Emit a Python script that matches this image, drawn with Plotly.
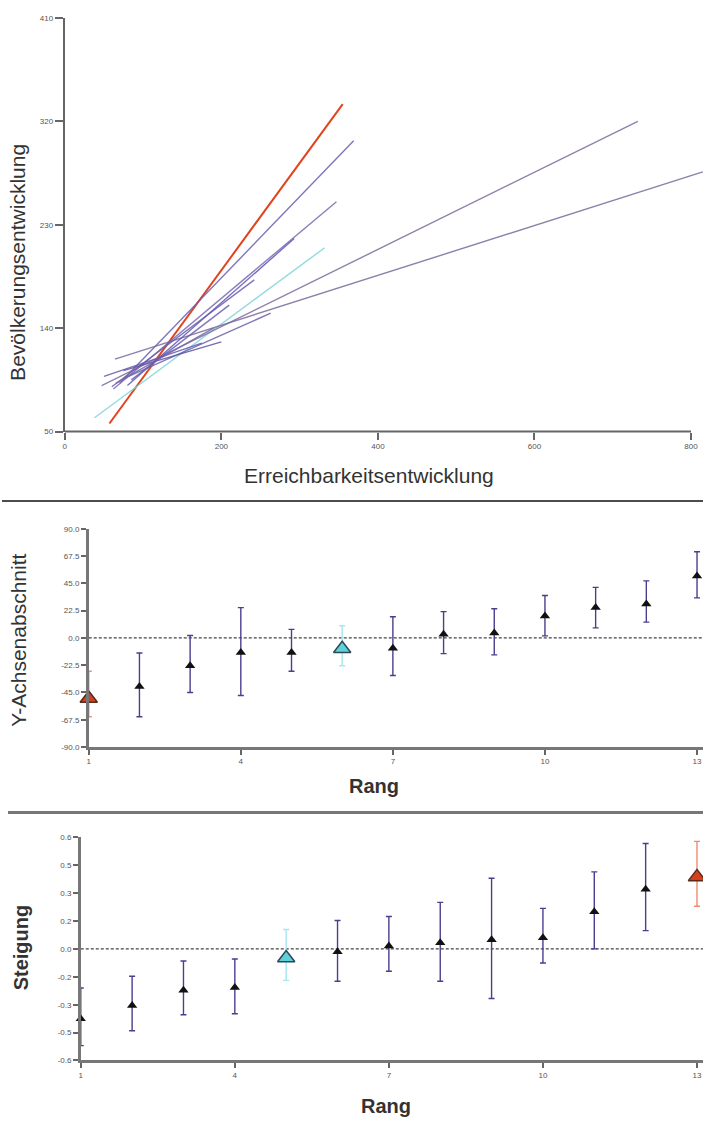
import plotly.graph_objects as go

W, H = 703, 1127
FONT = "Liberation Sans"

# ---------------- Panel 1: regression lines ----------------
line_names = ["L1", "L2", "L3", "L4", "L5", "L6", "L7", "L8", "L9", "L10", "L11", "L12", "L13"]
line_x0 = [57, 38, 70, 62, 47, 64, 75, 80, 60, 50, 65, 75, 85]
line_y0 = [57, 62, 92, 87, 90, 113, 96, 90, 89, 98, 92, 103, 95]
line_x1 = [355, 332, 369, 347, 732, 815, 263, 293, 242, 175, 190, 200, 210]
line_y1 = [335, 210, 303, 250, 320, 276, 153, 218, 182, 127, 140, 128, 160]
line_colors = ["#E0441E", "#7FD4DA", "#6A5FB0", "#7B6AAE", "#7D6C9E", "#7A6A9C",
               "#6F62A8", "#5C56B8", "#6B5DB0", "#6458B4", "#7565A8", "#5E52A6", "#6C60B2"]

p1_yticks = [50, 140, 230, 320, 410]
p1_xticks = [0, 200, 400, 600, 800]

# ---------------- Panel 2: intercepts ----------------
ranks = list(range(1, 14))
icpt = [-50, -40, -23, -12, -12, -9, -8.5, 3, 4, 18, 25, 28, 51]
icpt_hi = [-27.5, -12.5, 2, 25, 7, 10, 17.5, 21.7, 24, 35, 41.7, 47, 71]
icpt_lo = [-65, -65, -45, -47.5, -27.5, -23, -31, -13, -14, 1.7, 8.3, 13, 33]
icpt_red = [0]
icpt_cyan = [5]
p2_yticks = [-90, -67.5, -45, -22.5, 0, 22.5, 45, 67.5, 90]
p2_yticktext = ["-90.0", "-67.5", "-45.0", "-22.5", "0.0", "22.5", "45.0", "67.5", "90.0"]

# ---------------- Panel 3: slopes ----------------
slope = [-0.376, -0.305, -0.223, -0.207, -0.049, -0.016, 0.016, 0.033, 0.049, 0.06, 0.2, 0.32, 0.387]
slope_hi = [-0.21, -0.147, -0.065, -0.054, 0.104, 0.153, 0.174, 0.25, 0.38, 0.218, 0.414, 0.567, 0.578]
slope_lo = [-0.52, -0.44, -0.354, -0.349, -0.169, -0.174, -0.12, -0.174, -0.267, -0.076, 0.0, 0.098, 0.229]
slope_red = [12]
slope_cyan = [4]
p3_yticks = [-0.6, -0.45, -0.3, -0.15, 0, 0.15, 0.3, 0.45, 0.6]
p3_yticktext = ["-0.6", "-0.5", "-0.3", "-0.2", "0.0", "0.2", "0.3", "0.5", "0.6"]

rank_ticks = [1, 4, 7, 10, 13]

fig = go.Figure()

for i, n in enumerate(line_names):
    fig.add_trace(go.Scatter(
        x=[line_x0[i], line_x1[i]], y=[line_y0[i], line_y1[i]], mode="lines",
        line=dict(color=line_colors[i], width=2 if i == 0 else 1.4),
        opacity=1 if i == 0 else 0.85,
        xaxis="x", yaxis="y", showlegend=False, name=n))


def add_points(vals, hi, lo, red, cyan, xa, ya):
    groups = [
        ([i for i in range(13) if i not in red and i not in cyan], "#111111", 9, "#4A3E8E", None),
        (red, "#D2401E", 15, "#F08A6E", "#5a2a1a"),
        (cyan, "#5FD0D8", 15, "#A8E6EE", "#2a4a5a"),
    ]
    for idx, col, size, ecol, lcol in groups:
        fig.add_trace(go.Scatter(
            x=[ranks[i] for i in idx], y=[vals[i] for i in idx], mode="markers",
            marker=dict(symbol="triangle-up", size=size, color=col,
                        line=dict(width=1.5 if lcol else 0, color=lcol or col)),
            error_y=dict(type="data", symmetric=False,
                         array=[hi[i] - vals[i] for i in idx],
                         arrayminus=[vals[i] - lo[i] for i in idx],
                         color=ecol, thickness=1.4, width=3),
            cliponaxis=False, xaxis=xa, yaxis=ya, showlegend=False))


add_points(icpt, icpt_hi, icpt_lo, icpt_red, icpt_cyan, "x2", "y2")
add_points(slope, slope_hi, slope_lo, slope_red, slope_cyan, "x3", "y3")


def py(p):
    return 1 - p / H


def px(p):
    return p / W


tickfont = dict(family=FONT, size=8, color="#555555")

fig.update_layout(
    width=W, height=H, margin=dict(l=0, r=0, t=0, b=0),
    paper_bgcolor="white", plot_bgcolor="white", showlegend=False,
    xaxis=dict(domain=[px(63), 1], range=[0, 815.3], tickvals=p1_xticks,
               ticks="outside", ticklen=7, tickcolor="#666", tickwidth=1.5,
               showgrid=False, zeroline=False, showline=False, tickfont=tickfont,
               anchor="y"),
    yaxis=dict(domain=[py(431), py(14)], range=[50, 410], tickvals=p1_yticks,
               ticks="outside", ticklen=8, tickcolor="#666", tickwidth=1.5,
               showgrid=False, zeroline=False, showline=True, linecolor="#666",
               linewidth=2, tickfont=tickfont, anchor="x"),
    xaxis2=dict(domain=[px(87), 1], range=[1, 13.118], tickvals=rank_ticks,
                ticks="outside", ticklen=5, tickcolor="#666", tickwidth=1.5,
                showgrid=False, zeroline=False, showline=True, linecolor="#777",
                linewidth=2.5, tickfont=tickfont, anchor="y2"),
    yaxis2=dict(domain=[py(749), py(529)], range=[-90, 90], tickvals=p2_yticks,
                ticktext=p2_yticktext, ticks="outside", ticklen=5, tickcolor="#666",
                tickwidth=1.5, showgrid=False, zeroline=False, showline=True,
                linecolor="#777", linewidth=2.5, tickfont=tickfont, anchor="x2"),
    xaxis3=dict(domain=[px(79), 1], range=[1, 13.117], tickvals=rank_ticks,
                ticks="outside", ticklen=5, tickcolor="#666", tickwidth=1.5,
                showgrid=False, zeroline=False, showline=True, linecolor="#777",
                linewidth=2.5, tickfont=tickfont, anchor="y3"),
    yaxis3=dict(domain=[py(1065), py(840)], range=[-0.6, 0.6], tickvals=p3_yticks,
                ticktext=p3_yticktext, ticks="outside", ticklen=5, tickcolor="#666",
                tickwidth=1.5, showgrid=False, zeroline=False, showline=True,
                linecolor="#777", linewidth=2.5, tickfont=tickfont, anchor="x3"),
)

shapes = [
    # panel 1 x axis line (ends at the 800 tick)
    dict(type="line", xref="x", yref="y domain", x0=0, x1=800, y0=0, y1=0,
         line=dict(color="#666", width=2)),
    # zero reference lines
    dict(type="line", xref="x2 domain", yref="y2", x0=0, x1=1, y0=0, y1=0,
         line=dict(color="#444", width=1.2, dash="3px,2px"), layer="below"),
    dict(type="line", xref="x3 domain", yref="y3", x0=0, x1=1, y0=0, y1=0,
         line=dict(color="#444", width=1.2, dash="3px,2px"), layer="below"),
    # panel separators
    dict(type="line", xref="paper", yref="paper", x0=0, x1=1, y0=py(501), y1=py(501),
         line=dict(color="#111", width=1.5)),
    dict(type="line", xref="paper", yref="paper", x0=px(6), x1=1, y0=py(815), y1=py(815),
         line=dict(color="#777", width=3)),
]
fig.update_layout(shapes=shapes)

annotations = [
    dict(text="Bevölkerungsentwicklung", x=px(16), y=py(260), textangle=-90,
         font=dict(family=FONT, size=21, color="#333")),
    dict(text="Erreichbarkeitsentwicklung", x=px(368), y=py(475),
         font=dict(family=FONT, size=21, color="#333")),
    dict(text="Y-Achsenabschnitt", x=px(17), y=py(641), textangle=-90,
         font=dict(family=FONT, size=21, color="#333")),
    dict(text="<b>Rang</b>", x=px(373), y=py(788),
         font=dict(family=FONT, size=20, color="#333")),
    dict(text="<b>Steigung</b>", x=px(19), y=py(951), textangle=-90,
         font=dict(family=FONT, size=20, color="#333")),
    dict(text="<b>Rang</b>", x=px(385), y=py(1111),
         font=dict(family=FONT, size=20, color="#333")),
]
for a in annotations:
    a.update(xref="paper", yref="paper", showarrow=False, xanchor="center", yanchor="middle")
fig.update_layout(annotations=annotations)

fig.write_html("out.html", config={"displayModeBar": False},
               post_script="document.body.style.margin='0';")
